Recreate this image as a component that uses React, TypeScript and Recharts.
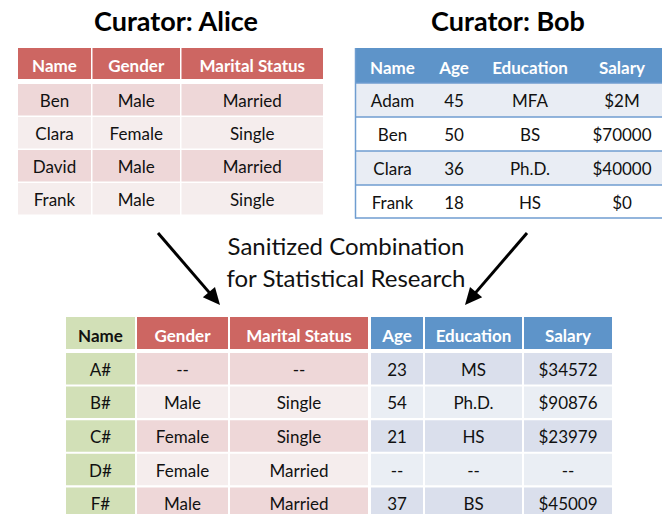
import { Surface, Layer, Rectangle, Text, Curve, Polygon } from "recharts";

// table contents
const aliceColumns = ["Name", "Gender", "Marital Status"];
const aliceNames = ["Ben", "Clara", "David", "Frank"];
const aliceGender = ["Male", "Female", "Male", "Male"];
const aliceMarital = ["Married", "Single", "Married", "Single"];

const bobColumns = ["Name", "Age", "Education", "Salary"];
const bobNames = ["Adam", "Ben", "Clara", "Frank"];
const bobAge = ["45", "50", "36", "18"];
const bobEducation = ["MFA", "BS", "Ph.D.", "HS"];
const bobSalary = ["$2M", "$70000", "$40000", "$0"];

const mixColumns = ["Name", "Gender", "Marital Status", "Age", "Education", "Salary"];
const mixNames = ["A#", "B#", "C#", "D#", "F#"];
const mixGender = ["--", "Male", "Female", "Female", "Male"];
const mixMarital = ["--", "Single", "Single", "Married", "Married"];
const mixAge = ["23", "54", "21", "--", "37"];
const mixEducation = ["MS", "Ph.D.", "HS", "--", "BS"];
const mixSalary = ["$34572", "$90876", "$23979", "--", "$45009"];

const titles = ["Curator: Alice", "Curator: Bob"];
const captionLines = ["Sanitized Combination", "for Statistical Research"];

const FONT = "Lato, 'Open Sans', sans-serif";
const RED = "#CD6662";
const BLUE = "#5E94C9";
const GREEN = "#D2E0B7";
const PINK = ["#EED7D8", "#F5EDED"];
const BLUE_ROWS = ["#DADFEC", "#EAEEF4"];

type Col = { x0: number; x1: number; head: string; headText: string; rows: string[] };

function Grid({ cols, values, headY, headH, rowY, rowH, pitch }: {
  cols: Col[]; values: string[][]; headY: number; headH: number; rowY: number; rowH: number; pitch: number;
}) {
  return (
    <Layer>
      {cols.map((c, i) => (
        <Layer key={"h" + i}>
          <Rectangle x={c.x0} y={headY} width={c.x1 - c.x0} height={headH} fill={c.head} />
          <Text x={(c.x0 + c.x1) / 2} y={headY + headH / 2 + 2.5} textAnchor="middle" verticalAnchor="middle"
            fontFamily={FONT} fontWeight={700} fontSize={17} fill={c.headText}>
            {values[i][0]}
          </Text>
        </Layer>
      ))}
      {cols.map((c, i) =>
        values[i].slice(1).map((v, r) => (
          <Layer key={i + "-" + r}>
            <Rectangle x={c.x0} y={rowY + r * pitch} width={c.x1 - c.x0} height={rowH} fill={c.rows[r % c.rows.length]} />
            <Text x={(c.x0 + c.x1) / 2} y={rowY + r * pitch + rowH / 2 + 1} textAnchor="middle" verticalAnchor="middle"
              fontFamily={FONT} fontSize={17} fill="#111">
              {v}
            </Text>
          </Layer>
        ))
      )}
    </Layer>
  );
}

function Arrow({ x1, y1, x2, y2 }: { x1: number; y1: number; x2: number; y2: number }) {
  const dx = x2 - x1, dy = y2 - y1;
  const len = Math.hypot(dx, dy);
  const ux = dx / len, uy = dy / len;
  const hl = 17, hw = 8;
  const bx = x2 - ux * hl, by = y2 - uy * hl;
  return (
    <Layer>
      <Curve type="linear" points={[{ x: x1, y: y1 }, { x: bx + ux * 2, y: by + uy * 2 }]} stroke="#000" strokeWidth={3} fill="none" />
      <Polygon
        points={[
          { x: x2, y: y2 },
          { x: bx - uy * hw, y: by + ux * hw },
          { x: bx + uy * hw, y: by - ux * hw },
        ]}
        fill="#000"
      />
    </Layer>
  );
}

export default function App() {
  const aliceCols: Col[] = [
    { x0: 18, x1: 91, head: RED, headText: "#fff", rows: PINK },
    { x0: 92.5, x1: 180, head: RED, headText: "#fff", rows: PINK },
    { x0: 181.5, x1: 323, head: RED, headText: "#fff", rows: PINK },
  ];
  const bobEdges = [355, 430, 478, 582, 662];
  const bobCols: Col[] = bobEdges.slice(0, -1).map((x0, i) => ({
    x0, x1: bobEdges[i + 1], head: BLUE, headText: "#fff", rows: ["#E9EDF4", "#FFFFFF"],
  }));
  const mixCols: Col[] = [
    { x0: 66, x1: 135, head: GREEN, headText: "#111", rows: [GREEN] },
    { x0: 137, x1: 228, head: RED, headText: "#fff", rows: PINK },
    { x0: 230, x1: 368, head: RED, headText: "#fff", rows: PINK },
    { x0: 371, x1: 423, head: BLUE, headText: "#fff", rows: BLUE_ROWS },
    { x0: 425, x1: 522, head: BLUE, headText: "#fff", rows: BLUE_ROWS },
    { x0: 524, x1: 612, head: BLUE, headText: "#fff", rows: BLUE_ROWS },
  ];
  const bobRowY = [83, 117, 151, 185, 218];

  return (
    <div style={{ position: "absolute", left: 0, top: 0, width: 662, height: 514, background: "#fff" }}>
      <Surface width={662} height={514}>
        <Text x={176} y={21} textAnchor="middle" verticalAnchor="middle" fontFamily={FONT} fontWeight={700} fontSize={27} fill="#000">
          {titles[0]}
        </Text>
        <Text x={508} y={21} textAnchor="middle" verticalAnchor="middle" fontFamily={FONT} fontWeight={700} fontSize={27} fill="#000">
          {titles[1]}
        </Text>

        <Grid cols={aliceCols} values={[[aliceColumns[0], ...aliceNames], [aliceColumns[1], ...aliceGender], [aliceColumns[2], ...aliceMarital]]}
          headY={48} headH={31} rowY={84} rowH={31.5} pitch={33} />

        <Grid cols={bobCols} values={[[bobColumns[0], ...bobNames], [bobColumns[1], ...bobAge], [bobColumns[2], ...bobEducation], [bobColumns[3], ...bobSalary]]}
          headY={48} headH={35} rowY={83} rowH={34} pitch={34} />
        {bobRowY.map((y) => (
          <Curve key={y} type="linear" points={[{ x: 355, y }, { x: 662, y }]} stroke="#6F9DD0" strokeWidth={1.5} fill="none" />
        ))}
        <Curve type="linear" points={[{ x: 355.5, y: 48 }, { x: 355.5, y: 218.5 }]} stroke="#6F9DD0" strokeWidth={1.5} fill="none" />

        {captionLines.map((t, i) => (
          <Text key={t} x={346} y={246 + i * 32} textAnchor="middle" verticalAnchor="middle" fontFamily={FONT} fontSize={24} fill="#111">
            {t}
          </Text>
        ))}
        <Arrow x1={158} y1={233} x2={220} y2={305} />
        <Arrow x1={527} y1={233} x2={465} y2={305} />

        <Grid cols={mixCols}
          values={[[mixColumns[0], ...mixNames], [mixColumns[1], ...mixGender], [mixColumns[2], ...mixMarital], [mixColumns[3], ...mixAge], [mixColumns[4], ...mixEducation], [mixColumns[5], ...mixSalary]]}
          headY={317} headH={32} rowY={353} rowH={31.5} pitch={33.6} />
      </Surface>
    </div>
  );
}
